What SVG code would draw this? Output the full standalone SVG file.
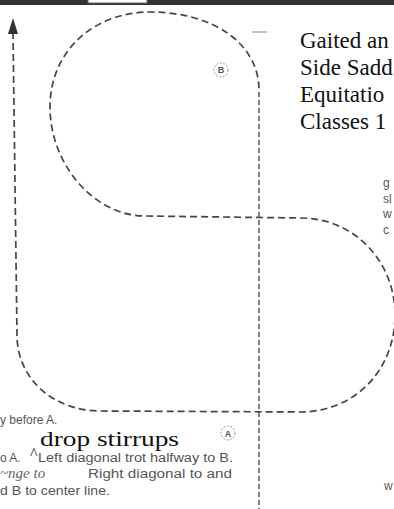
<svg xmlns="http://www.w3.org/2000/svg" width="394" height="509" viewBox="0 0 394 509">
<defs>
<style>
.path{fill:none;stroke:#454545;stroke-width:1.7;stroke-dasharray:7 4}
.center{fill:none;stroke:#555;stroke-width:1.5;stroke-dasharray:5 3}
.title{font-family:"Liberation Serif",serif;font-size:23px;fill:#111}
.small{font-family:"Liberation Sans",sans-serif;font-size:12px;fill:#555}
.mark{fill:#fff;stroke:#999;stroke-width:1;stroke-dasharray:2 1.5}
.letter{font-family:"Liberation Sans",sans-serif;font-size:9px;font-weight:bold;fill:#555;text-anchor:middle}
</style>
</defs>
<rect width="394" height="509" fill="#fff"/>
<g id="topbar">
<rect x="0" y="0" width="394" height="5" fill="#333"/>
<rect x="88" y="-1" width="59" height="4" fill="#fff" stroke="#666" stroke-width="1"/>
</g>
<g id="connectors">
<path class="path" d="M13,32 L17,335 C17,380 55,411 100,411 L300,412 C355,412 395,370 395,315 C395,262 355,218 300,218 L145,216 C95,216 50,165 50,107 C50,50 95,12 150,12 C215,12 259,45 259,90"/>
<polygon points="13,18 8,34 18,34" fill="#333"/>
<path class="center" d="M259,92 L259,509"/>
<line x1="252" y1="32" x2="267" y2="32" stroke="#888" stroke-width="1"/>
</g>
<g id="markerB">
<circle class="mark" cx="221" cy="70" r="7"/>
<text class="letter" x="221" y="73">B</text>
</g>
<g id="markerA">
<circle class="mark" cx="228" cy="433" r="7"/>
<text class="letter" x="228" y="436.5">A</text>
</g>
<g id="title">
<text class="title" x="300" y="48">Gaited an</text>
<text class="title" x="300" y="75">Side Sadd</text>
<text class="title" x="300" y="102">Equitatio</text>
<text class="title" x="300" y="129">Classes 1</text>
</g>
<g id="side-text">
<text class="small" x="383" y="187" font-size="13">g</text>
<text class="small" x="383" y="203" font-size="13">sl</text>
<text class="small" x="383" y="218" font-size="13">w</text>
<text class="small" x="383" y="234" font-size="13">c</text>
<text class="small" x="384" y="490" font-size="9">w</text>
</g>
<g id="instructions">
<text class="small" x="0" y="424">y before A.</text>
<text x="40" y="446" font-family="Liberation Serif,serif" font-size="20" fill="#111" textLength="139" lengthAdjust="spacingAndGlyphs">drop stirrups</text>
<text class="small" x="0" y="462">o A.</text>
<text x="30" y="459" font-family="Liberation Serif,serif" font-size="16" fill="#222">^</text>
<text class="small" x="38" y="462" textLength="195" lengthAdjust="spacingAndGlyphs">Left diagonal trot halfway to B.</text>
<text x="0" y="478" font-family="Liberation Serif,serif" font-style="italic" font-size="15" fill="#666">~nge  to</text>
<text class="small" x="88" y="478" textLength="144" lengthAdjust="spacingAndGlyphs">Right diagonal to and</text>
<text class="small" x="0" y="495" textLength="110" lengthAdjust="spacingAndGlyphs">d B to center line.</text>
</g>
</svg>
